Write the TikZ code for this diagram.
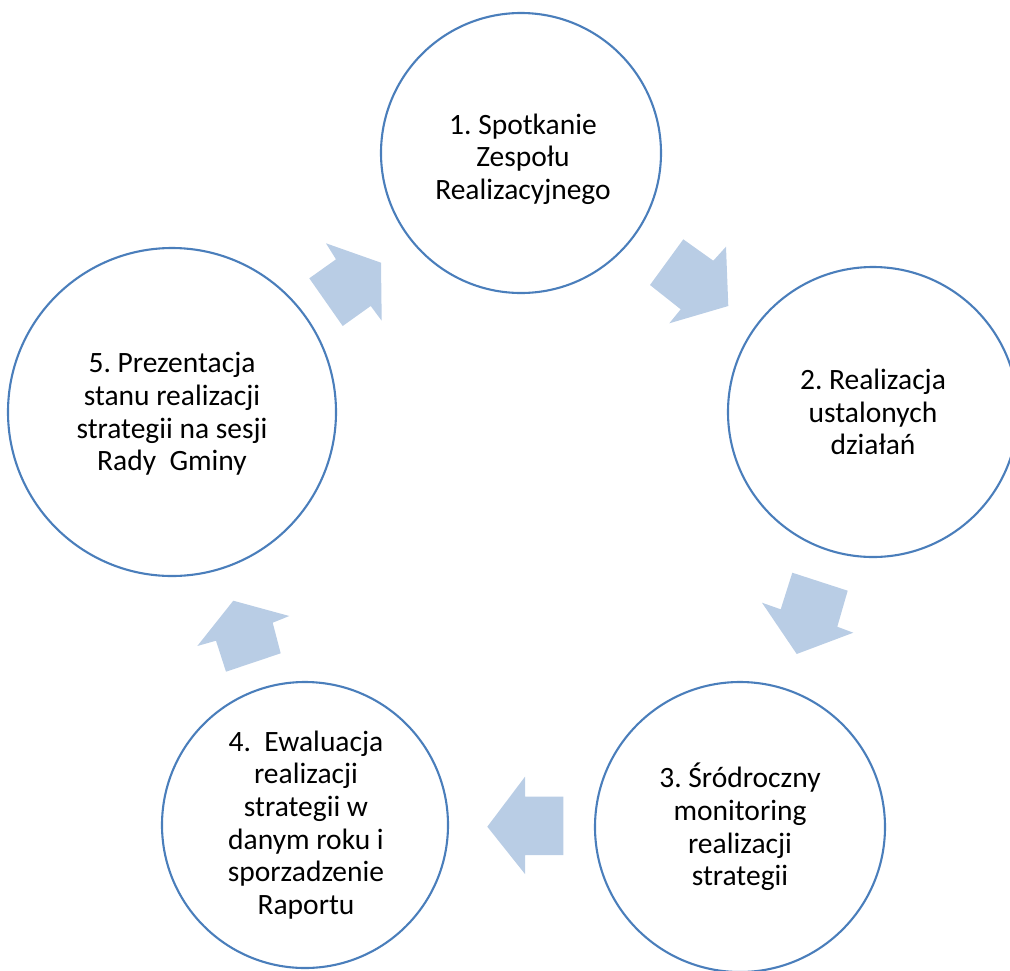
\documentclass[tikz,border=0pt]{standalone}
\usepackage{fontspec}
\setmainfont{Carlito}
\definecolor{ringblue}{HTML}{4A7EBB}
\definecolor{arrowfill}{HTML}{B9CDE5}
\begin{document}
\begin{tikzpicture}[x=1pt,y=-1pt,
  ring/.style={circle, draw=ringblue, line width=2.1pt, inner sep=0pt},
  ringtext/.style={inner sep=0pt, align=center, text=black,
    font=\fontsize{29.5}{32.6}\selectfont},
  blockarrow/.style={fill=arrowfill, draw=none}]
\useasboundingbox (0,0) rectangle (1010,970);
\clip (0,0) rectangle (1010,970);
\frenchspacing
\node[ring, minimum size=280pt] (c1) at (521,153) {};
\node[ring, minimum size=290pt] (c2) at (873,412) {};
\node[ring, minimum size=290pt] (c3) at (740,827) {};
\node[ring, minimum size=286pt] (c4) at (305,825) {};
\node[ring, minimum size=328pt] (c5) at (172,412) {};
\node[ringtext] (t1) at ([xshift=2pt,yshift=-6pt]c1.center) {1. Spotkanie\\Zespołu\\Realizacyjnego};
\node[ringtext] (t2) at (c2.center) {2. Realizacja\\ustalonych\\działań};
\node[ringtext] (t3) at (c3.center) {3. Śródroczny\\monitoring\\realizacji\\strategii};
\node[ringtext] (t4) at ([xshift=1pt]c4.center) {4.\ \ Ewaluacja\\realizacji\\strategii w\\danym roku i\\sporzadzenie\\Raportu};
\node[ringtext] (t5) at ([yshift=-2pt]c5.center) {5. Prezentacja\\stanu realizacji\\strategii na sesji\\Rady\ \ Gminy};
% block arrows between the circles
\fill[blockarrow] (309.3,278.3) -- (336,259.3) -- (326,243.3) -- (381,262.7) -- (381.7,320.7) -- (370.7,306) -- (342.7,326) -- cycle;
\fill[blockarrow] (683.3,239.3) -- (713.3,260.7) -- (726,246.7) -- (728.3,306) -- (669.3,323.3) -- (680.7,309.3) -- (650,285) -- cycle;
\fill[blockarrow] (792.3,572.7) -- (847.7,590.7) -- (837.3,626.7) -- (853.3,632.7) -- (796.7,654) -- (762,602.7) -- (780.7,609.3) -- cycle;
\fill[blockarrow] (563.3,796.7) -- (525,796.7) -- (525,776.7) -- (487.3,826.7) -- (525,874) -- (525,855) -- (563.3,855) -- cycle;
\fill[blockarrow] (280.7,653.3) -- (272.7,622.7) -- (289.3,616) -- (233.3,600.7) -- (197.3,646) -- (216,640.7) -- (226,671.7) -- cycle;
\end{tikzpicture}
\end{document}
